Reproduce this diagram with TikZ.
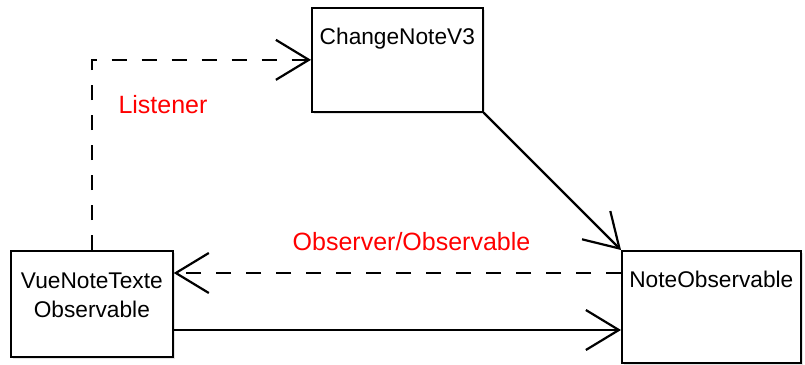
\documentclass[tikz,border=0pt]{standalone}
\usepackage{fontspec}
\setmainfont{Liberation Sans}
\usetikzlibrary{arrows.meta,shadows}

\tikzset{
  classbox/.style={draw=black, line width=1.7pt, fill=white, rectangle,
    inner sep=0pt, anchor=north west,
    drop shadow={shadow xshift=2.5pt, shadow yshift=-2.5pt, fill=black!22}},
  boxtext/.style={anchor=base, inner sep=0pt, align=center,
    font=\fontsize{22.7}{29}\selectfont, yshift=-37pt},
  reltext/.style={anchor=base, inner sep=0pt, text=red,
    font=\fontsize{25}{30}\selectfont},
  link/.style={line width=2.2pt, draw=black},
  dashlink/.style={link, dash pattern=on 15pt off 15pt},
  opentip/.style={-{Straight Barb[length=33pt, width=40pt, line width=2.2pt]}}
}

\begin{document}
\begin{tikzpicture}[x=1pt, y=-1pt]
  \useasboundingbox (0,0) rectangle (805,364);

  % classes
  \node[classbox, minimum width=171pt, minimum height=104pt,
        label={[boxtext]north:ChangeNoteV3}] (change) at (311,7) {};
  \node[classbox, minimum width=179pt, minimum height=112pt,
        label={[boxtext]north:NoteObservable}] (note) at (621,250) {};
  % two-line name: the base anchor sits on the last line
  \node[classbox, minimum width=162pt, minimum height=106pt,
        label={[boxtext, yshift=-30pt]north:VueNoteTexte\\Observable}] (vue) at (10,250) {};

  % levels of the two horizontal links
  \coordinate (obs) at (400,273);
  \coordinate (use) at (400,330);

  % relations
  \draw[dashlink, opentip] (vue.north) |- (change.west);
  \draw[dashlink, opentip] (note.west |- obs) -- (vue.east |- obs);
  \draw[link, opentip] (vue.east |- use) -- (note.west |- use);
  \draw[link, opentip] (change.south east) -- (note.north west);

  % relation names
  \node[reltext] (listener) at (163,113) {Listener};
  \node[reltext] (observer) at (411.5,250) {Observer/Observable};
\end{tikzpicture}
\end{document}
